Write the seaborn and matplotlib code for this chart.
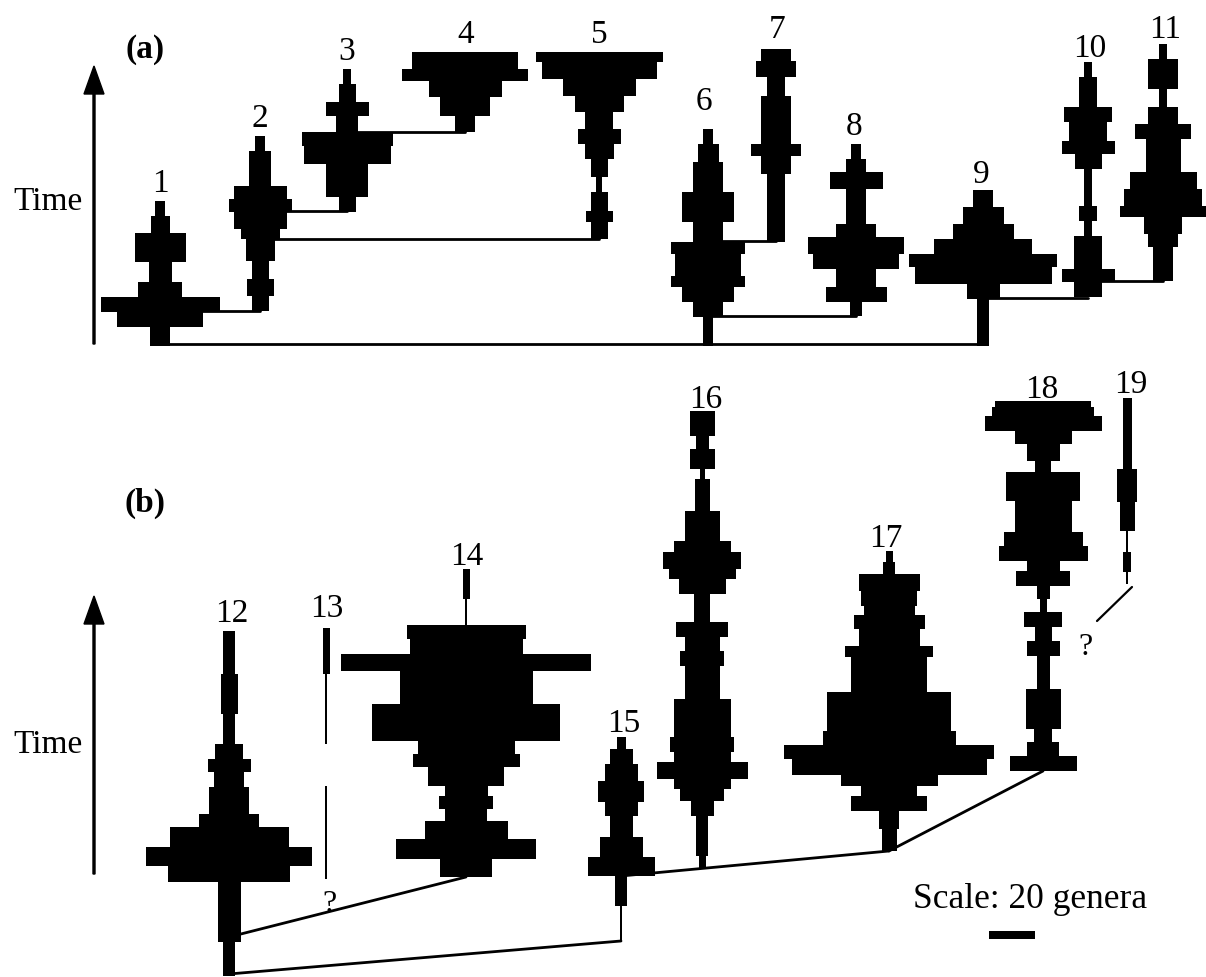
import numpy as np
import pandas as pd
import matplotlib
matplotlib.use("Agg")
import matplotlib.pyplot as plt
import seaborn as sns

# ---------------- data: spindle profiles (time boundaries, top -> bottom; widths = diversity) ----
# panel (a)
T1 = [202, 217, 234, 263, 283, 298, 313, 328, 347]
W1 = [10, 19, 51, 23, 44, 119, 86, 20]
T2 = [137, 152, 187, 200, 213, 230, 240, 262, 280, 297, 312]
W2 = [10, 22, 53, 63, 53, 39, 29, 17, 27, 17]
T3 = [70, 85, 103, 117, 133, 147, 165, 198, 213]
W3 = [8, 17, 43, 22, 91, 87, 42, 17]
T4 = [53, 70, 82, 98, 117, 133]
W4 = [106, 126, 73, 50, 20]
T5 = [53, 63, 80, 97, 113, 130, 145, 160, 178, 193, 212, 223, 240]
W5 = [127, 115, 73, 49, 28, 43, 29, 17, 6, 17, 27, 17]
T6 = [130, 145, 163, 193, 223, 243, 255, 277, 288, 303, 318, 347]
W6 = [10, 21, 30, 52, 30, 74, 66, 74, 52, 30, 10]
T7 = [50, 62, 78, 97, 145, 157, 175, 243]
W7 = [30, 40, 18, 30, 50, 30, 18]
T8 = [145, 160, 173, 190, 225, 238, 255, 270, 288, 303, 317]
W8 = [10, 20, 53, 20, 40, 96, 86, 40, 61, 12]
T9 = [191, 208, 225, 240, 255, 268, 285, 300, 347]
W9 = [20, 41, 61, 98, 148, 137, 33, 12]
T10 = [63, 78, 108, 123, 142, 155, 170, 207, 222, 237, 270, 283, 298]
W10 = [8, 18, 48, 38, 53, 27, 8, 18, 8, 28, 53, 28]
T11 = [45, 60, 90, 108, 125, 140, 173, 190, 207, 218, 235, 248, 282]
W11 = [8, 30, 8, 30, 56, 35, 67, 78, 86, 38, 30, 20]
# panel (b)
T12 = [632, 675, 715, 745, 760, 773, 788, 815, 828, 848, 867, 883, 943, 977]
W12 = [12, 17, 12, 28, 43, 30, 40, 60, 119, 166, 122, 23, 12]
T13 = [629, 675, 745, 787, 880]
W13 = [7, 1.5, 0, 1.5]
T14 = [570, 600, 626, 640, 655, 672, 705, 742, 755, 768, 787, 797, 810, 822, 840, 860, 878]
W14 = [7, 1.5, 119, 113, 250, 133, 188, 97, 107, 76, 43, 54, 42, 83, 140, 52]
T15 = [738, 750, 765, 782, 803, 817, 838, 858, 877, 907, 942]
W15 = [9, 23, 33, 46, 33, 23, 43, 67, 12, 1.5]
T16 = [412, 437, 450, 470, 480, 512, 542, 553, 570, 580, 595, 623, 638, 652, 667,
       700, 738, 753, 763, 780, 790, 802, 817, 857, 870]
W16 = [25, 13, 25, 5, 15, 35, 57, 78, 67, 47, 16, 52, 35, 44, 35,
       57, 64, 57, 91, 57, 44, 23, 12, 7]
T17 = [552, 563, 575, 592, 607, 616, 630, 647, 658, 693, 732, 746, 760, 776, 787, 797, 812, 830, 852]
W17 = [7, 12, 61, 56, 51, 71, 61, 88, 76, 124, 133, 210, 195, 97, 56, 76, 20, 15]
T18 = [402, 408, 417, 432, 445, 462, 473, 502, 533, 547, 562, 572, 587, 600, 613,
       628, 642, 657, 690, 730, 743, 757, 772]
W18 = [96, 102, 117, 57, 33, 16, 74, 57, 79, 89, 33, 54, 13, 7, 38,
       17, 33, 13, 35, 18, 32, 67]
T19 = [399, 470, 503, 532, 553, 573, 585]
W19 = [9, 20, 15, 2, 8, 2]

CLADES = [str(i) for i in range(1, 20)]
PROFILES = {
    '1': (T1, W1), '2': (T2, W2), '3': (T3, W3), '4': (T4, W4), '5': (T5, W5),
    '6': (T6, W6), '7': (T7, W7), '8': (T8, W8), '9': (T9, W9), '10': (T10, W10),
    '11': (T11, W11), '12': (T12, W12), '13': (T13, W13), '14': (T14, W14),
    '15': (T15, W15), '16': (T16, W16), '17': (T17, W17), '18': (T18, W18),
    '19': (T19, W19),
}

# branching: panel (a) horizontal links (parent, child, branching time)
LINKS_A = [('1', '2', 312), ('2', '3', 212), ('2', '5', 240), ('3', '4', 133),
           ('1', '9', 345), ('6', '7', 242), ('6', '8', 317), ('9', '10', 299),
           ('10', '11', 282)]
# panel (b) sloped links (parent, time at parent, child, time at child)
LINKS_B = [('12', 938, '14', 878), ('12', 975, '15', 942),
           ('15', 877, '17', 852), ('17', 852, '18', 772)]

SCALE_GENERA = 20

# ---------------- layout ----------------
CENTER_X = {'1': 160, '2': 260, '3': 347, '4': 465, '5': 599, '6': 708, '7': 776,
            '8': 856, '9': 983, '10': 1088, '11': 1163, '12': 229, '13': 326,
            '14': 466, '15': 621, '16': 702, '17': 889, '18': 1043, '19': 1127}
LABEL_POS = {'1': (160, 192), '2': (260, 127), '3': (347, 60), '4': (466, 43),
             '5': (599, 43), '6': (704, 110), '7': (777, 38), '8': (854, 135),
             '9': (981, 183), '10': (1090, 57), '11': (1165, 38), '12': (232, 622),
             '13': (327, 617), '14': (467, 565), '15': (624, 732), '16': (706, 408),
             '17': (886, 547), '18': (1042, 398), '19': (1131, 393)}
SCALE_PX = 46

sns.set_theme(style="white")
plt.rcParams['font.family'] = ['Liberation Serif', 'DejaVu Serif']
plt.rcParams['text.color'] = 'black'

fig = plt.figure(figsize=(12.06, 9.78), dpi=100)
ax = fig.add_axes([0, 0, 1, 1])

# branch lines (drawn first, under spindles)
rows = []
for k, (p, c, t) in enumerate(LINKS_A):
    rows.append(dict(link=k, x=CENTER_X[p], y=t))
    rows.append(dict(link=k, x=CENTER_X[c], y=t))
for k, (p, tp, c, tc) in enumerate(LINKS_B):
    rows.append(dict(link=100 + k, x=CENTER_X[p], y=tp))
    rows.append(dict(link=100 + k, x=CENTER_X[c], y=tc))
links_df = pd.DataFrame(rows)
sns.lineplot(data=links_df, x='x', y='y', units='link', estimator=None, sort=False,
             color='black', lw=2, ax=ax, legend=False)
ax.set_xlim(0, 1206)
ax.set_ylim(978, 0)
ax.axis('off')

# "?" link for 19
ax.plot([CENTER_X['19'] + 5, CENTER_X['19'] - 30], [588, 622], color='black', lw=1.6)

# spindles
for cid in CLADES:
    T, W = PROFILES[cid]
    T = np.asarray(T, float)
    W = np.asarray(W, float)
    m = W > 0
    ax.bar(x=np.full(m.sum(), CENTER_X[cid]), width=W[m], bottom=T[:-1][m],
           height=np.diff(T)[m], color='black', linewidth=0, align='center',
           antialiased=False)
    lx, ly = LABEL_POS[cid]
    ax.text(lx, ly, cid, ha='center', va='baseline', fontsize=24, color='black')

# axis arrows and labels
for y0, y1 in [(345, 67), (875, 597)]:
    ax.arrow(94, y0, 0, y1 - y0, width=2, head_width=20, head_length=28,
             length_includes_head=True, color='black')
ax.text(48, 210, 'Time', ha='center', va='baseline', fontsize=24, color='black')
ax.text(48, 753, 'Time', ha='center', va='baseline', fontsize=24, color='black')
ax.text(145, 58, '(a)', ha='center', va='baseline', fontsize=24, fontweight='bold', color='black')
ax.text(145, 512, '(b)', ha='center', va='baseline', fontsize=24, fontweight='bold', color='black')
ax.text(329, 912, '?', ha='center', va='baseline', fontsize=23, color='black')
ax.text(1086, 655, '?', ha='center', va='baseline', fontsize=23, color='black')

# scale bar
ax.text(1030, 908, f'Scale: {SCALE_GENERA} genera', ha='center', va='baseline',
        fontsize=25.5, color='black')
ax.bar(x=[1012], width=[SCALE_PX], bottom=[932], height=[8], color='black',
       linewidth=0, antialiased=False)

fig.savefig('out.png', dpi=100, facecolor='white')
